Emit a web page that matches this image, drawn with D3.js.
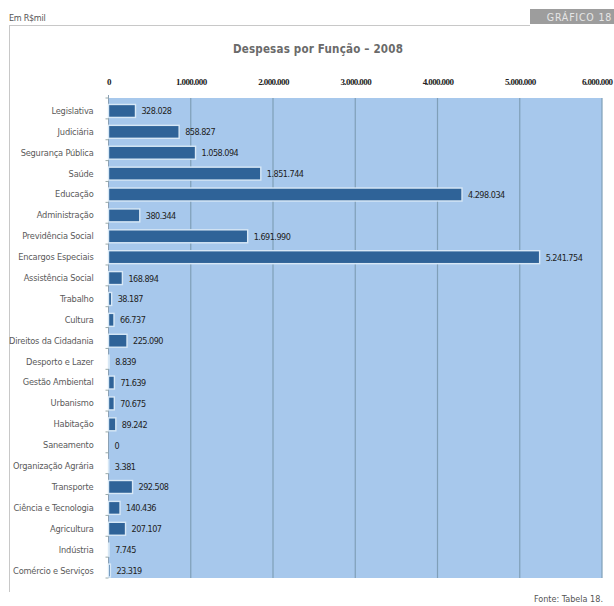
<!DOCTYPE html>
<html>
<head>
<meta charset="utf-8">
<script src="https://cdn.jsdelivr.net/npm/d3@7"></script>
<style>
  html, body { margin: 0; padding: 0; background: #fff; }
  svg { display: block; }
</style>
</head>
<body>
<svg id="chart" width="614" height="606"></svg>
<script>
// Despesas por função, 2008 (R$ mil)
const categories = [
  "Legislativa", "Judiciária", "Segurança Pública", "Saúde", "Educação",
  "Administração", "Previdência Social", "Encargos Especiais", "Assistência Social",
  "Trabalho", "Cultura", "Direitos da Cidadania", "Desporto e Lazer",
  "Gestão Ambiental", "Urbanismo", "Habitação", "Saneamento", "Organização Agrária",
  "Transporte", "Ciência e Tecnologia", "Agricultura", "Indústria", "Comércio e Serviços"
];
const values = [
  328028, 858827, 1058094, 1851744, 4298034,
  380344, 1691990, 5241754, 168894,
  38187, 66737, 225090, 8839,
  71639, 70675, 89242, 0, 3381,
  292508, 140436, 207107, 7745, 23319
];
const tickValues = [0, 1000000, 2000000, 3000000, 4000000, 5000000, 6000000];

const svg = d3.select("#chart");
const narrow = "'DejaVu Sans Condensed', 'Liberation Sans Narrow', 'Liberation Sans', sans-serif";

// pt-BR style thousands separator
const fmt = v => d3.format(",")(v).replace(/,/g, ".");

const plot = { left: 108.5, right: 602, top: 98, bottom: 578 };

const x = d3.scaleLinear().domain([0, 6000000]).range([plot.left, plot.right]);
const y = d3.scaleBand().domain(categories).range([100.5, 581]).paddingInner(0.38).paddingOuter(0.19);

// Frame: header rule and left border
svg.append("line").attr("x1", 9).attr("x2", 530).attr("y1", 25.5).attr("y2", 25.5)
  .attr("stroke", "#c8c8c8").attr("stroke-width", 1);
svg.append("line").attr("x1", 9.5).attr("x2", 9.5).attr("y1", 25).attr("y2", 592)
  .attr("stroke", "#c8c8c8").attr("stroke-width", 1);

// Header badge
svg.append("rect").attr("x", 530).attr("y", 9).attr("width", 84).attr("height", 15).attr("fill", "#9d9d9d");
svg.append("text").attr("x", 612).attr("y", 20.5).attr("text-anchor", "end")
  .attr("fill", "#e6e6e6").attr("font-family", narrow).attr("font-size", 10.5)
  .attr("letter-spacing", 0.8).text("GRÁFICO 18");

svg.append("text").attr("x", 9).attr("y", 21).attr("fill", "#555")
  .attr("font-family", narrow).attr("font-size", 9).attr("letter-spacing", -0.3).text("Em R$mil");

// Title
svg.append("text").attr("x", 318).attr("y", 53).attr("text-anchor", "middle")
  .attr("fill", "#6a6a6a").attr("font-family", narrow).attr("font-size", 11.5)
  .attr("font-weight", "bold").attr("letter-spacing", 0.2).text("Despesas por Função – 2008");

// Plot background
svg.append("rect").attr("x", plot.left).attr("y", plot.top)
  .attr("width", plot.right - plot.left).attr("height", plot.bottom - plot.top)
  .attr("fill", "#a7c8ec");

// Vertical gridlines
svg.append("g").selectAll("line").data(tickValues.slice(1))
  .join("line")
  .attr("x1", d => x(d)).attr("x2", d => x(d))
  .attr("y1", plot.top).attr("y2", plot.bottom)
  .attr("stroke", "#7f9fb8").attr("stroke-width", 1.2);

// Top axis labels
const xAxis = d3.axisTop(x).tickValues(tickValues).tickFormat(fmt).tickSize(0).tickPadding(0);
const gx = svg.append("g").attr("transform", `translate(0,${85})`).call(xAxis);
gx.select(".domain").remove();
gx.selectAll("text").attr("fill", "#222").attr("font-family", "'Liberation Serif', serif")
  .attr("font-size", 9).attr("font-weight", "bold").attr("letter-spacing", -0.6);
// keep the last label inside the page
gx.selectAll(".tick").filter(d => d === 6000000).select("text")
  .attr("text-anchor", "end").attr("x", 612 - x(6000000));

// Left axis line with small ticks between categories
svg.append("line").attr("x1", plot.left).attr("x2", plot.left)
  .attr("y1", plot.top - 3).attr("y2", plot.bottom)
  .attr("stroke", "#8aa0b4").attr("stroke-width", 1);
const step = (plot.bottom - plot.top) / categories.length;
svg.append("g").selectAll("line").data(d3.range(categories.length + 1))
  .join("line")
  .attr("x1", plot.left - 3).attr("x2", plot.left)
  .attr("y1", i => plot.top + i * step).attr("y2", i => plot.top + i * step)
  .attr("stroke", "#9aa").attr("stroke-width", 1);

// Category labels
const yAxis = d3.axisLeft(y).tickSize(0).tickPadding(15);
const gy = svg.append("g").attr("transform", `translate(${plot.left},0)`).call(yAxis);
gy.select(".domain").remove();
gy.selectAll("text").attr("fill", "#5a5a5a").attr("font-family", narrow)
  .attr("font-size", 9.2).attr("letter-spacing", -0.2);

// Bars
svg.append("g").selectAll("rect").data(values)
  .join("rect")
  .attr("x", x(0))
  .attr("y", (d, i) => y(categories[i]))
  .attr("width", d => x(d) - x(0))
  .attr("height", y.bandwidth())
  .attr("fill", "#2f6398")
  .attr("stroke", "#d8e8f6")
  .attr("stroke-width", d => d > 0 ? 1.4 : 0);

// Value labels
svg.append("g").selectAll("text").data(values)
  .join("text")
  .attr("x", d => x(d) + 6)
  .attr("y", (d, i) => y(categories[i]) + y.bandwidth() / 2 + 3.5)
  .attr("fill", "#222").attr("font-family", narrow)
  .attr("font-size", 9).attr("letter-spacing", -0.5)
  .text(fmt);

// Source
svg.append("text").attr("x", 603).attr("y", 602).attr("text-anchor", "end")
  .attr("fill", "#555").attr("font-family", narrow).attr("font-size", 9)
  .text("Fonte: Tabela 18.");
</script>
</body>
</html>
